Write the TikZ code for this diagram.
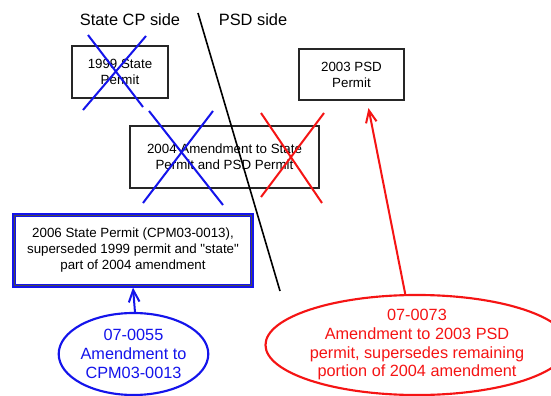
\documentclass[tikz,border=0pt]{standalone}
\usepackage{fontspec}
\setmainfont{Liberation Sans}[Ligatures=TeXOff]
\usetikzlibrary{shapes.geometric,arrows.meta,calc}
\definecolor{pblue}{RGB}{20,20,235}
\definecolor{pred}{RGB}{245,20,20}
\tikzset{
  permit/.style={draw=black!85, line width=1.7pt, fill=white, inner sep=0pt, align=center,
    font=\fontsize{10}{12}\selectfont},
  amend/.style={ellipse, line width=1.6pt, inner sep=0pt, align=center,
    font=\fontsize{12.2}{14}\selectfont},
  cross/.style={line width=1.5pt},
  side/.style={font=\fontsize{12.3}{14}\selectfont, inner sep=0pt},
  link/.style={line width=1.5pt, -{Straight Barb[length=9pt,width=8pt,line width=1.5pt]}}
}
\begin{document}
\begin{tikzpicture}[x=0.75pt,y=-0.75pt]
\useasboundingbox (0,0) rectangle (551,396);
\fill[white] (0,0) rectangle (551,396);

\node[side] (tstate) at (130,20) {State CP side};
\node[side] (tpsd) at (253,20) {PSD side};

\node[permit, minimum width=72pt, minimum height=39pt] (p1999) at (120,72) {1999 State\\Permit};
\node[permit, minimum width=141.75pt, minimum height=46.5pt] (p2004) at (224.5,157) {2004 Amendment to State\\Permit and PSD Permit};
\node[permit, minimum width=78.75pt, minimum height=38.25pt] (p2003) at (351.5,74.5) {2003 PSD\\Permit};
\node[permit, draw=pblue, line width=2.4pt, minimum width=178.5pt, minimum height=53.25pt] (p2006) at (133,250.5) {2006 State Permit (CPM03-0013),\\superseded 1999 permit and "state"\\part of 2004 amendment};
\draw[black!70, line width=0.5pt] ($(p2006.south west)+(2,-2)$) rectangle ($(p2006.north east)+(-2,2)$);

% dividing line
\coordinate (dtop) at (198,13);
\coordinate (dbot) at (280,291);
\draw[line width=1.2pt] (dtop) -- (dbot);

% crosses
\draw[cross, pblue] (88,35) -- (143,107);
\draw[cross, pblue] (146,36) -- (83,110);
\draw[cross, pblue] (149,111) -- (223,205);
\draw[cross, pblue] (213,111) -- (143,203);
\draw[cross, pred] (261,113) -- (322,203);
\draw[cross, pred] (324,113) -- (261,197);

% amendments
\node[amend, draw=pblue, text=pblue, minimum width=108.75pt, minimum height=61.5pt] (e0055) at (133.5,354) {07-0055\\Amendment to\\CPM03-0013};
\node[amend, draw=pred, text=pred, minimum width=201pt, minimum height=75pt] (e0073) at (417,345) {07-0073\\Amendment to 2003 PSD\\permit, supersedes remaining\\portion of 2004 amendment};

\coordinate (tip2003) at ($(p2003.south)+(17,7)$);
\draw[link, pblue] (e0055.88) -- (p2006.south);
\draw[link, pred] (e0073.103) -- (tip2003);
\end{tikzpicture}
\end{document}
